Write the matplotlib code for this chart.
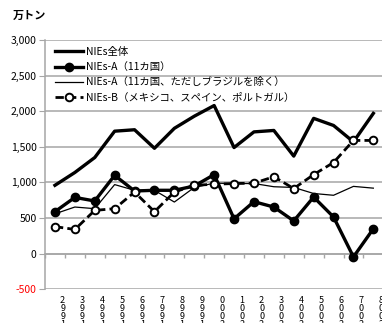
import matplotlib
matplotlib.use("Agg")
import matplotlib.pyplot as plt
import matplotlib.transforms as mtransforms
import numpy as np

plt.rcParams['font.family'] = ['Noto Sans CJK JP', 'DejaVu Sans']

# data (万トン), 1992-2008
years = list(range(1992, 2009))
nies_all = [960, 1140, 1350, 1720, 1740, 1480, 1760, 1930, 2080,
            1490, 1710, 1730, 1370, 1900, 1800, 1570, 1970]
nies_a = [590, 790, 740, 1100, 880, 890, 890, 950, 1110,
          490, 730, 655, 460, 795, 515, -45, 350]
nies_a_ex_br = [560, 655, 632, 970, 890, 890, 725, 930, 990,
                985, 985, 940, 930, 845, 820, 945, 920]
nies_b = [380, 340, 608, 632, 865, 590, 865, 960, 975,
          985, 990, 1080, 915, 1110, 1280, 1590, 1590]

labels = ["NIEs全体", "NIEs-A（11カ国）",
          "NIEs-A（11カ国、ただしブラジルを除く）",
          "NIEs-B（メキシコ、スペイン、ポルトガル）"]
yticks = [-500, 0, 500, 1000, 1500, 2000, 2500, 3000]

grid_col = "#A6A6A6"

fig = plt.figure(figsize=(3.82, 3.23), dpi=100)
ax = fig.add_axes([45 / 382, 1 - 289.3 / 323, 338.3 / 382, (289.3 - 40) / 323])

x = np.arange(len(years))
ax.plot(x, nies_all, color="black", lw=2.4, label=labels[0], zorder=3)
ax.plot(x, nies_a, color="black", lw=2.4, marker="o", ms=6,
        label=labels[1], zorder=4)
ax.plot(x, nies_a_ex_br, color="black", lw=0.9, label=labels[2], zorder=3)
ax.plot(x, nies_b, color="black", lw=2.0, dashes=(3, 1.5), marker="o",
        ms=5.5, mfc="white", mec="black", mew=1.4, label=labels[3], zorder=5)

ax.set_xlim(-0.5, len(years) - 0.5)
ax.set_ylim(-500, 3000)
ax.set_yticks(yticks)
ax.set_yticklabels(["{:,}".format(v) for v in yticks], fontsize=7.5)
ax.get_yticklabels()[0].set_color("red")
ax.tick_params(axis="y", length=4, color=grid_col, pad=2)
ax.yaxis.grid(True, color=grid_col, lw=1.1)
ax.set_axisbelow(True)

for s in ["top", "right", "bottom"]:
    ax.spines[s].set_visible(False)
ax.spines["left"].set_color(grid_col)
ax.spines["left"].set_linewidth(1.1)

# category axis crossing at zero with marks between categories
ax.set_xticks([])
zero_ax = ax.secondary_xaxis(500 / 3500)
zero_ax.set_xticks(np.arange(len(years) + 1) - 0.5)
zero_ax.set_xticklabels([])
zero_ax.tick_params(length=3, color=grid_col, width=1)
zero_ax.spines["bottom"].set_color(grid_col)
zero_ax.spines["bottom"].set_linewidth(1.1)

# stacked year labels below the plot (cut by the lower edge, as in the source)
offset = mtransforms.ScaledTranslation(0.077, -0.07, fig.dpi_scale_trans)
trans = mtransforms.blended_transform_factory(ax.transData, ax.transAxes) + offset
for xi, yr in zip(x, years):
    ax.text(xi, 0, "\n".join(str(yr)[::-1]), transform=trans, ha="center",
            va="top", fontsize=6.5, linespacing=0.85, clip_on=False)

ax.legend(loc="upper left", bbox_to_anchor=(55 / 382, 1 - 47 / 323),
          bbox_transform=fig.transFigure, frameon=False, fontsize=7.5,
          handlelength=2.7, handletextpad=0.3, labelspacing=0.5,
          borderpad=0, borderaxespad=0)

fig.text(13 / 382, 1 - 15 / 323, "万トン", fontsize=8, fontweight="bold",
         va="center", ha="left")

fig.savefig("out.png", dpi=100)
